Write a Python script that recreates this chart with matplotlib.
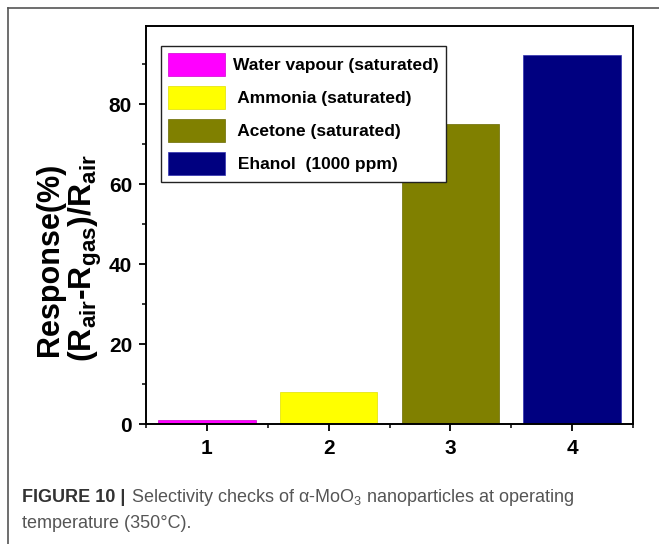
import matplotlib
matplotlib.use("Agg")
import matplotlib.pyplot as plt
from matplotlib.lines import Line2D
from matplotlib.ticker import MultipleLocator

plt.rcParams['font.family'] = ['Liberation Sans', 'DejaVu Sans']

# data
positions = [1, 2, 3, 4]
responses = [0.9, 7.9, 75.0, 92.2]
labels = ["Water vapour (saturated)", " Ammonia (saturated)",
          " Acetone (saturated)", " Ehanol  (1000 ppm)"]
colors = ["#ff00ff", "#ffff00", "#808000", "#000080"]
edges = ["#d000d0", "#e0e000", "#6a6a00", "#3030b0"]
ytick_vals = [0, 20, 40, 60, 80]

fig = plt.figure(figsize=(6.59, 5.44), dpi=100)
ax = fig.add_axes([146 / 659, 120 / 544, 487 / 659, 398 / 544])

bars = ax.bar(positions, responses, width=0.8, color=colors,
              edgecolor=edges, linewidth=0.5)

ax.set_xlim(0.5, 4.5)
ax.set_ylim(0, 99.5)
ax.set_xticks(positions)
ax.set_yticks(ytick_vals)
ax.xaxis.set_minor_locator(MultipleLocator(0.5))
ax.yaxis.set_minor_locator(MultipleLocator(10))
ax.tick_params(which="major", direction="out", length=5, width=1.3,
               labelsize=15, pad=5)
ax.tick_params(which="minor", direction="out", length=3, width=1.1)
ax.tick_params(axis="x", which="major", pad=6)
for lab in ax.get_xticklabels() + ax.get_yticklabels():
    lab.set_fontweight("bold")
for sp in ax.spines.values():
    sp.set_linewidth(1.4)

leg = ax.legend(bars, labels, loc="upper left", bbox_to_anchor=(0.031, 0.95),
                borderaxespad=0, handlelength=3.3, handleheight=1.67,
                labelspacing=0.57, handletextpad=0.46, borderpad=0.4,
                fancybox=False, framealpha=1,
                prop={"weight": "bold", "size": 12.5})
leg.get_frame().set_edgecolor("#222222")
leg.get_frame().set_linewidth(1.0)

# two-line y label
fig.text(50 / 659, 1 - 259 / 544, "Response(%)", rotation=90,
         ha="center", va="center", fontsize=22, fontweight="bold")
fig.text(85 / 659, 1 - 258 / 544,
         r"$\mathregular{(R_{air}}$-$\mathregular{R_{gas})/R_{air}}$",
         rotation=90, ha="center", va="center", fontsize=23, fontweight="bold")

# page frame (top and left edge)
fig.add_artist(Line2D([7.5 / 659, 1], [1 - 8 / 544, 1 - 8 / 544],
                      transform=fig.transFigure, color="#555555", lw=1.2))
fig.add_artist(Line2D([7.5 / 659, 7.5 / 659], [0, 1 - 8 / 544],
                      transform=fig.transFigure, color="#555555", lw=1.2))

# caption
fig.text(22 / 659, 1 - 502 / 544, "FIGURE 10 |", fontsize=13,
         fontweight="bold", color="#333333", va="baseline")
fig.text(131 / 659, 1 - 502 / 544,
         r"Selectivity checks of α-MoO$\mathregular{_3}$ nanoparticles at operating",
         fontsize=13, color="#555555", va="baseline")
fig.text(22 / 659, 1 - 528 / 544, "temperature (350°C).", fontsize=13,
         color="#555555", va="baseline")

fig.savefig("out.png", dpi=100)
